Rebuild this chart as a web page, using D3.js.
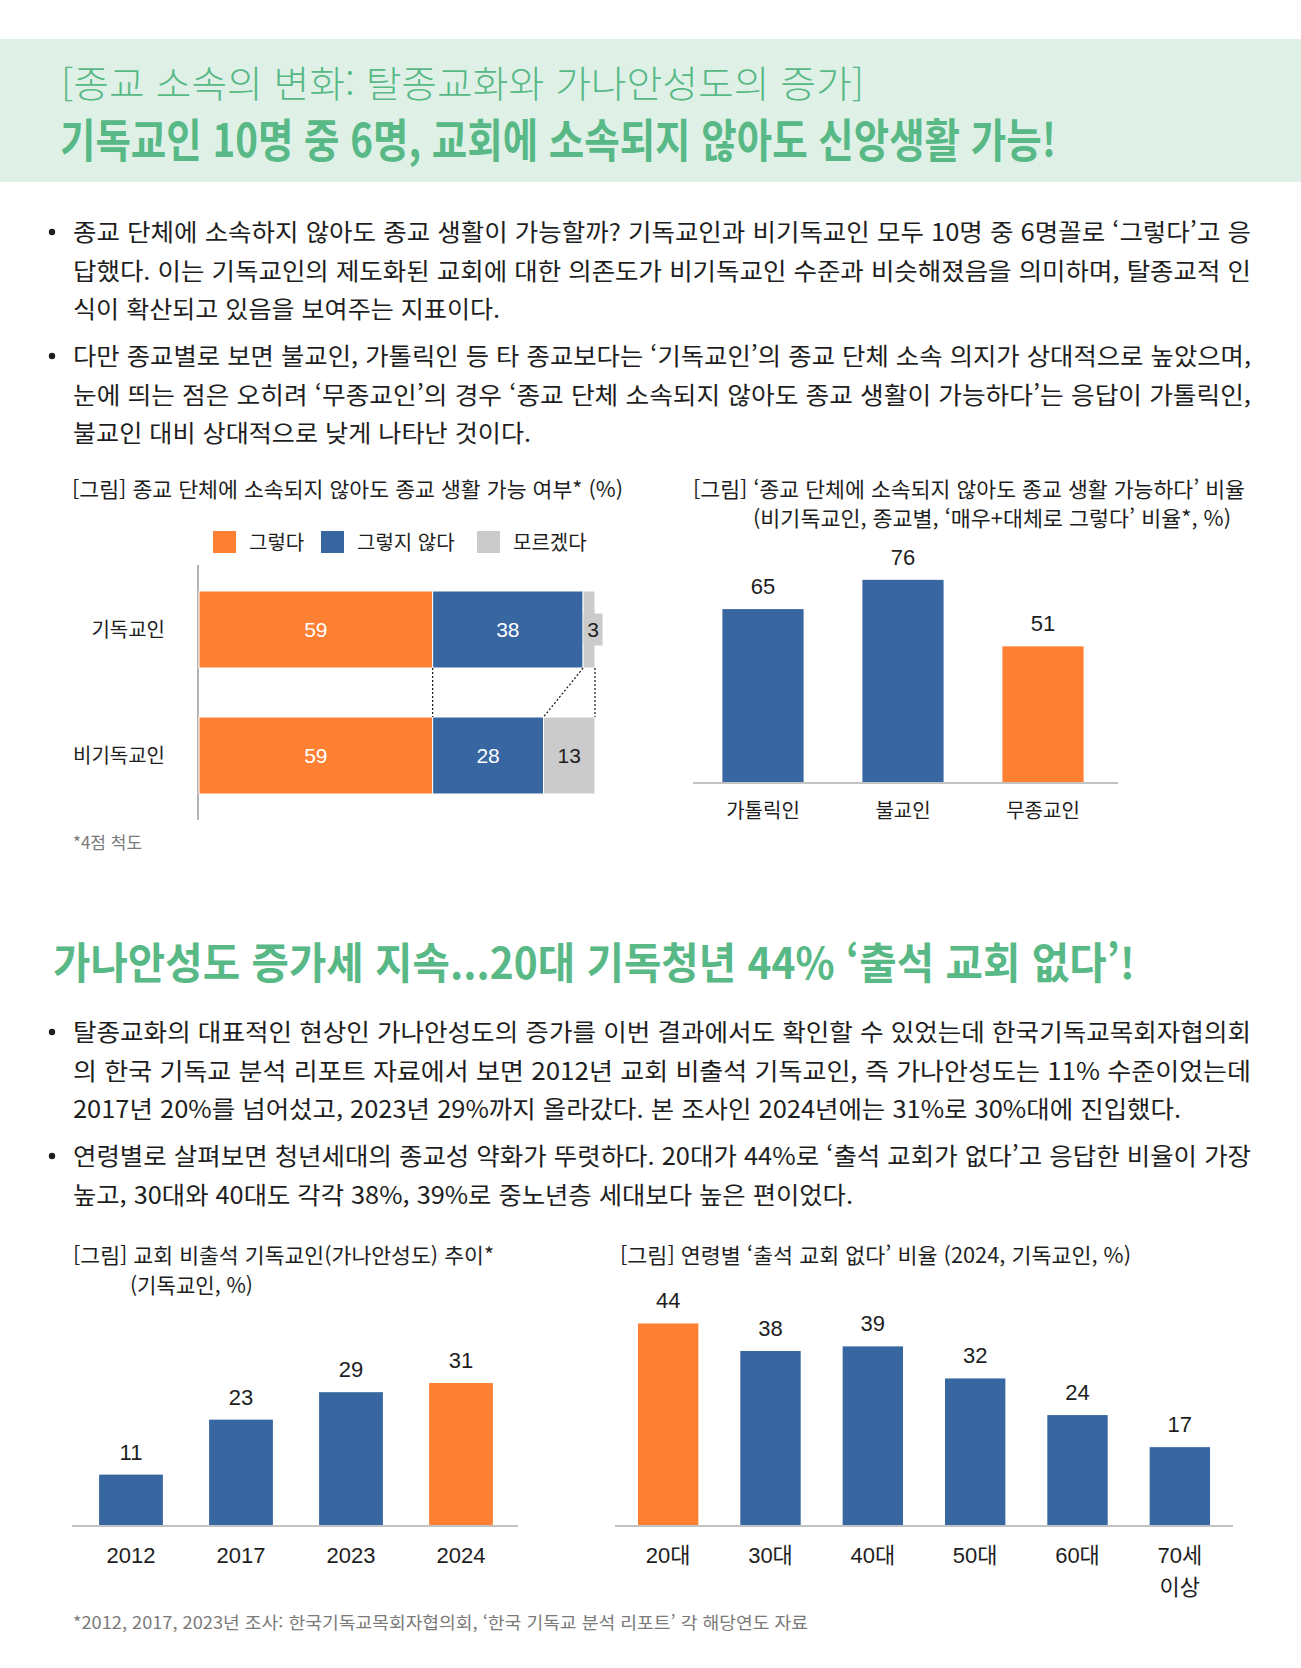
<!DOCTYPE html>
<html lang="ko">
<head>
<meta charset="utf-8">
<title>종교 소속의 변화</title>
<script src="https://cdn.jsdelivr.net/npm/d3@7"></script>
<style>
  body { margin: 0; background: #fff; }
  svg { display: block; }
  text { font-family: "Noto Sans CJK KR", "Noto Sans", sans-serif; }
  text.num { font-family: "Liberation Sans", "Noto Sans CJK KR", sans-serif; }
</style>
</head>
<body>
<script>
// chart data
const stackCategories = ["기독교인", "비기독교인"];
const stackKeys = ["그렇다", "그렇지 않다", "모르겠다"];
const yesValues = [59, 59];
const noValues = [38, 28];
const dontKnowValues = [3, 13];

const religionCategories = ["가톨릭인", "불교인", "무종교인"];
const religionValues = [65, 76, 51];

const yearCategories = ["2012", "2017", "2023", "2024"];
const yearValues = [11, 23, 29, 31];

const ageCategories = ["20대", "30대", "40대", "50대", "60대", "70세 이상"];
const ageValues = [44, 38, 39, 32, 24, 17];

const ORANGE = "#fe8033", BLUE = "#3866a1", GRAY = "#cbcbcb", GREEN = "#58b886", INK = "#1e1e1e";
const W = 1301, H = 1668;

const svg = d3.select("body").append("svg")
    .attr("width", W)
    .attr("height", H);

// small helper for text, len stretches the line to the measured width
function addText(g, x, y, str, o = {}) {
    const t = g.append("text")
        .attr("x", x)
        .attr("y", y)
        .attr("font-size", o.size || 24)
        .attr("font-weight", o.weight || 400)
        .attr("fill", o.fill || INK)
        .attr("text-anchor", o.anchor || "start")
        .text(str);
    if (o.cls) t.attr("class", o.cls);
    if (o.len) t.attr("textLength", o.len).attr("lengthAdjust", "spacingAndGlyphs");
    return t;
}

// header band
svg.append("rect")
    .attr("x", 0).attr("y", 39)
    .attr("width", W).attr("height", 143)
    .attr("fill", "#dff1e6");
addText(svg, 61, 98, "[종교 소속의 변화: 탈종교화와 가나안성도의 증가]", { size: 37, weight: 300, fill: GREEN, len: 803 });
addText(svg, 60, 157, "기독교인 10명 중 6명, 교회에 소속되지 않아도 신앙생활 가능!", { size: 46, weight: 700, fill: GREEN, len: 996 });

// bullet paragraphs, lines as laid out in the original
function paragraph(lines, y0) {
    svg.append("circle").attr("cx", 52).attr("cy", y0 - 9).attr("r", 3.2).attr("fill", INK);
    lines.forEach((l, i) => {
        addText(svg, 73, y0 + i * 38.6, l[0], { size: 24, len: l[1] });
    });
}
paragraph([
    ["종교 단체에 소속하지 않아도 종교 생활이 가능할까? 기독교인과 비기독교인 모두 10명 중 6명꼴로 ‘그렇다’고 응", 1178],
    ["답했다. 이는 기독교인의 제도화된 교회에 대한 의존도가 비기독교인 수준과 비슷해졌음을 의미하며, 탈종교적 인", 1178],
    ["식이 확산되고 있음을 보여주는 지표이다.", 427]
], 241);
paragraph([
    ["다만 종교별로 보면 불교인, 가톨릭인 등 타 종교보다는 ‘기독교인’의 종교 단체 소속 의지가 상대적으로 높았으며,", 1178],
    ["눈에 띄는 점은 오히려 ‘무종교인’의 경우 ‘종교 단체 소속되지 않아도 종교 생활이 가능하다’는 응답이 가톨릭인,", 1178],
    ["불교인 대비 상대적으로 낮게 나타난 것이다.", 458]
], 365);

// ---------- chart 1: stacked horizontal bars ----------
const c1 = svg.append("g");
addText(c1, 72, 497, "[그림] 종교 단체에 소속되지 않아도 종교 생활 가능 여부* (%)", { size: 21, len: 551 });

const legendX = [213, 321, 477];
const stackColors = [ORANGE, BLUE, GRAY];
stackKeys.forEach((k, i) => {
    c1.append("rect").attr("x", legendX[i]).attr("y", 531).attr("width", 23).attr("height", 22).attr("fill", stackColors[i]);
    addText(c1, legendX[i] + 36, 550, k, { size: 20 });
});

const stackRows = stackCategories.map((c, i) => ({
    category: c, "그렇다": yesValues[i], "그렇지 않다": noValues[i], "모르겠다": dontKnowValues[i]
}));
const series = d3.stack().keys(stackKeys)(stackRows);

const x1 = d3.scaleLinear().domain([0, 100]).range([199, 595]);
const y1 = d3.scaleBand().domain(stackCategories).range([528, 857]).paddingInner(0.389).paddingOuter(0.5);

c1.append("line")
    .attr("x1", 198).attr("x2", 198).attr("y1", 565).attr("y2", 820)
    .attr("stroke", "#b3b3b3").attr("stroke-width", 2);

series.forEach((s, si) => {
    c1.append("g").selectAll("rect")
        .data(s)
        .join("rect")
        .attr("x", d => x1(d[0]))
        .attr("y", d => y1(d.data.category))
        .attr("width", d => x1(d[1]) - x1(d[0]))
        .attr("height", y1.bandwidth())
        .attr("fill", stackColors[si])
        .attr("stroke", "#fff")
        .attr("stroke-width", 1);
});

// value labels, the tiny segment gets a label box
series.forEach((s, si) => {
    s.forEach(d => {
        const w = x1(d[1]) - x1(d[0]);
        let cx = (x1(d[0]) + x1(d[1])) / 2;
        const cy = y1(d.data.category) + y1.bandwidth() / 2;
        if (w < 20) {
            cx += 4;
            c1.append("rect").attr("x", cx - 9.5).attr("y", cy - 16).attr("width", 19).attr("height", 32).attr("fill", GRAY);
        }
        addText(c1, cx, cy + 7.5, d[1] - d[0], {
            size: 21, anchor: "middle", cls: "num", fill: si < 2 ? "#fff" : INK
        });
    });
});

// dotted connectors between the two bars
const top1 = y1(stackCategories[0]) + y1.bandwidth();
const top2 = y1(stackCategories[1]);
series.forEach(s => {
    c1.append("line")
        .attr("x1", x1(s[0][1])).attr("y1", top1)
        .attr("x2", x1(s[1][1])).attr("y2", top2)
        .attr("stroke", "#111").attr("stroke-width", 1.2)
        .attr("stroke-dasharray", "2,2");
});

stackCategories.forEach(c => {
    addText(c1, 165, y1(c) + y1.bandwidth() / 2 + 7.5, c, { size: 20, anchor: "end" });
});
addText(c1, 73, 849, "*4점 척도", { size: 17, fill: "#7a7a7a" });

// ---------- column chart helper ----------
function drawColumns(cfg) {
    const g = svg.append("g");
    const x = d3.scaleBand().domain(cfg.categories).range(cfg.xRange)
        .paddingInner(cfg.padIn).paddingOuter(cfg.padIn / 2);
    const y = d3.scaleLinear().domain(cfg.domain).range(cfg.yRange);

    g.selectAll("rect")
        .data(cfg.values)
        .join("rect")
        .attr("x", (d, i) => x(cfg.categories[i]))
        .attr("y", d => y(d))
        .attr("width", x.bandwidth())
        .attr("height", d => y(0) - y(d))
        .attr("fill", (d, i) => i === cfg.highlight ? ORANGE : BLUE);

    g.append("line")
        .attr("x1", cfg.axisX[0]).attr("x2", cfg.axisX[1])
        .attr("y1", y(0) + 1).attr("y2", y(0) + 1)
        .attr("stroke", "#c2c2c2").attr("stroke-width", 2);

    cfg.values.forEach((v, i) => {
        const cx = x(cfg.categories[i]) + x.bandwidth() / 2;
        addText(g, cx, y(v) - 15, v, { size: 22, anchor: "middle", cls: "num" });
        const parts = cfg.categories[i].split(" ");
        parts.forEach((p, j) => {
            addText(g, cx, y(0) + cfg.labelGap + j * 32, p, { size: cfg.catSize, anchor: "middle", cls: "num" });
        });
    });
    return g;
}

// ---------- chart 2: by religion ----------
addText(svg, 693, 497, "[그림] ‘종교 단체에 소속되지 않아도 종교 생활 가능하다’ 비율", { size: 21, len: 552 });
addText(svg, 753, 526, "(비기독교인, 종교별, ‘매우+대체로 그렇다’ 비율*, %)", { size: 21, len: 478 });
drawColumns({
    categories: religionCategories, values: religionValues, highlight: 2,
    xRange: [693, 1113], padIn: 0.42, domain: [0, 100], yRange: [782, 516],
    axisX: [693, 1118], labelGap: 36, catSize: 20
});

// section 2 heading and paragraphs
addText(svg, 53, 979, "가나안성도 증가세 지속...20대 기독청년 44% ‘출석 교회 없다’!", { size: 43, weight: 700, fill: GREEN, len: 1082 });
paragraph([
    ["탈종교화의 대표적인 현상인 가나안성도의 증가를 이번 결과에서도 확인할 수 있었는데 한국기독교목회자협의회", 1178],
    ["의 한국 기독교 분석 리포트 자료에서 보면 2012년 교회 비출석 기독교인, 즉 가나안성도는 11% 수준이었는데", 1178],
    ["2017년 20%를 넘어섰고, 2023년 29%까지 올라갔다. 본 조사인 2024년에는 31%로 30%대에 진입했다.", 1108]
], 1041);
paragraph([
    ["연령별로 살펴보면 청년세대의 종교성 약화가 뚜렷하다. 20대가 44%로 ‘출석 교회가 없다’고 응답한 비율이 가장", 1178],
    ["높고, 30대와 40대도 각각 38%, 39%로 중노년층 세대보다 높은 편이었다.", 780]
], 1165);

// ---------- chart 3: trend by year ----------
addText(svg, 73, 1263, "[그림] 교회 비출석 기독교인(가나안성도) 추이*", { size: 21, len: 421 });
addText(svg, 130, 1293, "(기독교인, %)", { size: 21, len: 123 });
drawColumns({
    categories: yearCategories, values: yearValues, highlight: 3,
    xRange: [76, 516], padIn: 0.42, domain: [0, 50], yRange: [1525, 1296],
    axisX: [72, 518], labelGap: 38, catSize: 22
});

// ---------- chart 4: by age ----------
addText(svg, 620, 1263, "[그림] 연령별 ‘출석 교회 없다’ 비율 (2024, 기독교인, %)", { size: 21, len: 511 });
drawColumns({
    categories: ageCategories, values: ageValues, highlight: 0,
    xRange: [617, 1231], padIn: 0.41, domain: [0, 50], yRange: [1525, 1296],
    axisX: [615, 1233], labelGap: 38, catSize: 22
});

addText(svg, 73, 1629, "*2012, 2017, 2023년 조사: 한국기독교목회자협의회, ‘한국 기독교 분석 리포트’ 각 해당연도 자료", { size: 17, fill: "#7a7a7a", len: 735 });
</script>
</body>
</html>
